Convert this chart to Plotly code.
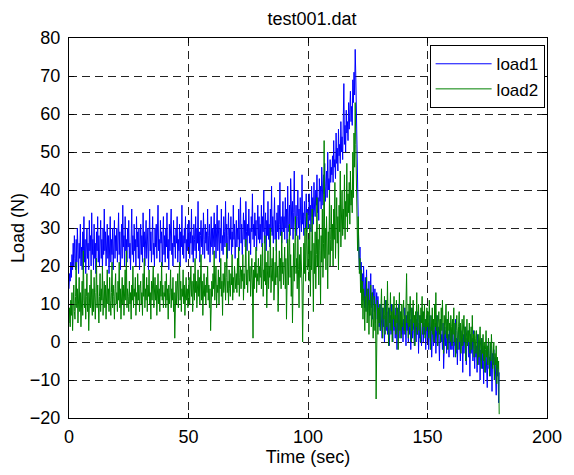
import plotly.graph_objects as go

dt = 0.25  # sample interval (sec)

load1 = [
    # 0-10 s
    14, 18, 16, 21, 17, 23, 19, 26, 20, 28, 22, 19, 27, 21, 30, 23, 18, 26, 22, 31,
    20, 25, 19, 29, 24, 33, 21, 27, 18, 25, 30, 22, 26, 19, 32, 24, 28, 20, 34, 23,
    # 10-20 s
    27, 19, 31, 22, 26, 18, 29, 24, 33, 21, 28, 20, 25, 32, 22, 27, 19, 30, 23, 35,
    24, 29, 20, 26, 31, 22, 28, 18, 25, 33, 21, 27, 23, 30, 19, 26, 32, 22, 28, 24,
    # 20-30 s
    30, 21, 27, 34, 23, 29, 19, 26, 31, 22, 36, 25, 28, 20, 33, 24, 27, 21, 30, 25,
    32, 22, 26, 19, 29, 35, 23, 28, 21, 31, 24, 27, 20, 33, 25, 29, 22, 30, 19, 26,
    # 30-40 s
    31, 23, 28, 21, 34, 25, 29, 20, 27, 32, 22, 26, 30, 19, 28, 35, 24, 29, 21, 27,
    33, 23, 26, 20, 30, 25, 31, 22, 28, 36, 24, 27, 21, 32, 26, 29, 20, 25, 33, 23,
    # 40-50 s
    28, 21, 30, 25, 34, 22, 27, 19, 31, 24, 29, 35, 23, 26, 20, 32, 25, 28, 22, 30,
    26, 33, 21, 27, 24, 31, 20, 29, 25, 36, 23, 28, 22, 30, 26, 33, 21, 27, 24, 31,
    # 50-60 s
    25, 32, 22, 29, 26, 35, 23, 28, 21, 31, 27, 24, 33, 22, 30, 26, 37, 24, 29, 21,
    28, 32, 25, 30, 23, 34, 27, 22, 31, 26, 29, 24, 35, 23, 28, 31, 21, 27, 33, 25,
    # 60-70 s
    30, 23, 28, 34, 25, 31, 22, 29, 36, 24, 27, 32, 21, 30, 26, 35, 24, 28, 23, 33,
    29, 25, 37, 26, 31, 22, 28, 34, 24, 30, 27, 33, 23, 29, 25, 36, 27, 31, 22, 28,
    # 70-80 s
    32, 25, 30, 27, 35, 24, 29, 38, 26, 31, 23, 28, 34, 27, 32, 25, 37, 29, 24, 31,
    28, 35, 26, 30, 23, 33, 29, 39, 27, 31, 25, 34, 28, 32, 24, 30, 36, 27, 33, 26,
    # 80-90 s
    31, 27, 36, 25, 33, 29, 40, 26, 30, 34, 24, 32, 28, 37, 27, 31, 25, 35, 29, 41,
    28, 33, 26, 30, 38, 27, 32, 24, 34, 29, 36, 27, 31, 42, 28, 33, 26, 30, 37, 29,
    # 90-100 s
    33, 27, 38, 30, 35, 26, 41, 31, 29, 36, 28, 43, 32, 30, 37, 27, 34, 45, 31, 29,
    36, 28, 33, 40, 30, 35, 27, 38, 32, 29, 44, 31, 34, 28, 37, 33, 30, 39, 29, 35,
    # 100-110 s
    34, 30, 39, 32, 36, 29, 41, 33, 38, 31, 42, 35, 33, 40, 36, 44, 34, 38, 32, 43,
    37, 41, 35, 46, 38, 36, 44, 39, 47, 37, 41, 45, 38, 50, 40, 43, 39, 48, 42, 46,
    # 110-120 s
    44, 49, 42, 53, 46, 48, 43, 55, 47, 51, 45, 56, 49, 52, 47, 58, 50, 54, 48, 60,
    68, 52, 57, 50, 61, 55, 58, 53, 63, 56, 60, 66, 58, 62, 57, 69, 63, 71, 65, 77,
    # 120-130 s
    70, 58, 45, 36, 30, 24, 19, 25, 16, 21, 13, 18, 11, 20, 15, 9, 17, 12, 19, 8,
    14, 10, 16, 7, 12, 18, 9, 13, 6, 15, 11, 8, 14, 5, 10, 13, 6, 12, 9, 4,
    # 130-140 s
    8, 3, 10, 5, 1, 9, 4, 7, 0, 6, 11, 3, 8, 2, 6, 9, -1, 5, 7, 2,
    10, 4, 0, 8, 3, 6, 1, 9, 4, -2, 7, 3, 10, 5, 1, 6, 8, 2, 5, 0,
    # 140-150 s
    6, 2, 9, 4, -1, 7, 3, 5, 0, 8, 2, 6, -2, 4, 9, 1, 5, 3, -1, 7,
    4, 0, 6, 2, 8, -3, 5, 1, 7, 3, -1, 4, 8, 0, 5, 2, 6, -2, 3, 7,
    # 150-160 s
    1, 5, -2, 3, 7, 0, 4, -4, 2, 6, -1, 3, 0, 5, -3, 2, 7, -1, 4, 1,
    -5, 3, 6, 0, 2, -2, 5, -7, 1, 4, -1, 3, -3, 6, 0, 2, -4, 4, 1, -2,
    # 160-170 s
    3, -2, 5, 0, -4, 2, -1, 6, -3, 1, -6, 2, 4, -2, 0, -5, 3, -1, 1, -8,
    2, -3, 0, 4, -2, -6, 1, -1, 3, -4, 0, -9, 2, -3, -1, 1, -5, 3, -2, -7,
    # 170-180 s
    0, -4, -1, -8, 2, -3, -6, 0, -10, -2, -5, 1, -7, -3, -11, -1, -4, -8, -2, -6,
    -12, -3, 0, -7, -4, -9, -1, -5, -13, -3, -6, -2, -10, -4, -8, -14, -5, -9, -6, -16,
    -8,
]

load2 = [
    # 0-10 s
    5, 9, 4, 11, 7, 13, 3, 10, 15, 8, 6, 12, 21, 9, 14, 5, 11, 17, 8, 13,
    4, 10, 16, 7, 24, 11, 9, 14, 6, 12, 18, 8, 13, 3, 11, 15, 9, 19, 10, 7,
    # 10-20 s
    14, 8, 17, 11, 6, 13, 22, 9, 15, 10, 5, 12, 18, 8, 14, 11, 20, 7, 13, 16,
    9, 15, 6, 12, 19, 10, 14, 8, 17, 11, 7, 13, 21, 9, 15, 12, 6, 14, 18, 10,
    # 20-30 s
    13, 8, 16, 11, 21, 9, 14, 6, 12, 17, 10, 15, 7, 13, 19, 11, 24, 9, 14, 12,
    8, 16, 10, 13, 6, 15, 11, 20, 9, 14, 12, 17, 7, 13, 10, 18, 11, 15, 8, 14,
    # 30-40 s
    16, 10, 13, 7, 18, 12, 22, 9, 14, 11, 17, 8, 15, 12, 19, 10, 13, 6, 16, 11,
    14, 20, 9, 13, 17, 11, 15, 7, 12, 18, 10, 14, 8, 16, 12, 21, 11, 15, 9, 13,
    # 40-50 s
    12, 16, 9, 18, 11, 14, 6, 15, 10, 13, 19, 9, 14, 11, 17, 8, 13, 1, 12, 16,
    10, 14, 18, 9, 13, 21, 11, 16, 8, 14, 12, 19, 10, 15, 7, 13, 17, 11, 14, 9,
    # 50-60 s
    13, 17, 10, 15, 20, 12, 16, 8, 14, 18, 11, 22, 13, 16, 9, 15, 19, 12, 17, 10,
    14, 23, 11, 16, 7, 13, 18, 12, 15, 10, 17, 13, 20, 11, 15, 9, 14, 3, 12, 16,
    # 60-70 s
    12, 18, 14, 24, 11, 16, 20, 9, 15, 13, 19, 10, 17, 14, 22, 12, 16, 7, 18, 13,
    15, 21, 11, 17, 26, 13, 16, 10, 19, 14, 12, 18, 15, 23, 11, 17, 13, 20, 16, 14,
    # 70-80 s
    18, 13, 22, 15, 25, 12, 17, 20, 14, 19, 16, 23, 11, 18, 14, 21, 27, 15, 19, 13,
    17, 24, 16, 20, 12, 18, 22, 15, 1, 19, 14, 21, 17, 25, 13, 18, 16, 22, 15, 20,
    # 80-90 s
    17, 23, 14, 20, 26, 12, 19, 16, 28, 15, 21, 9, 18, 24, 14, 20, 17, 30, 13, 19,
    22, 16, 25, 11, 18, 21, 15, 27, 17, 20, 8, 19, 24, 16, 22, 14, 29, 18, 21, 15,
    # 90-100 s
    20, 25, 14, 22, 6, 18, 27, 15, 21, 31, 17, 23, 12, 20, 5, 19, 26, 16, 24, 33,
    18, 22, 14, 28, 19, 9, 23, 17, 25, 20, 15, 0, 21, 26, 18, 30, 16, 22, 34, 19,
    # 100-110 s
    21, 27, 16, 31, 12, 24, 19, 35, 22, 8, 26, 18, 29, 14, 23, 38, 20, 27, 15, 31,
    24, 10, 28, 21, 35, 17, 26, 53, 22, 30, 19, 33, 25, 14, 29, 23, 40, 20, 27, 36,
    # 110-120 s
    24, 31, 20, 35, 27, 42, 22, 30, 38, 26, 33, 19, 36, 29, 45, 25, 32, 40, 28, 35,
    30, 44, 27, 37, 33, 47, 29, 39, 34, 42, 31, 45, 36, 40, 34, 50, 38, 55, 46, 63,
    # 120-130 s
    52, 40, 31, 24, 33, 27, 18, 22, 13, 19, 9, 16, 6, 14, 11, 3, 12, 8, 17, 5,
    10, 14, 2, 11, 7, 15, 4, 9, 13, 1, 8, 12, 3, 10, -15, 6, 11, 2, 9, 5,
    # 130-140 s
    10, 3, 8, 14, 5, 1, 9, 6, 12, 2, 7, 11, 4, 16, 6, -1, 9, 5, 13, 3,
    8, 0, 10, 6, 12, 4, 7, 2, 11, 5, 9, -2, 6, 13, 3, 8, 1, 10, 4, 7,
    # 140-150 s
    11, 3, 7, 2, 9, 18, 5, 8, 1, 10, 4, 12, 6, 0, 9, 3, 11, 5, 7, -1,
    8, 4, 13, 2, 6, 10, 3, 7, 0, 9, 5, 12, 2, 8, 4, 10, 1, 6, 3, 9,
    # 150-160 s
    4, 8, 1, 11, 5, -2, 7, 3, 9, 2, 6, 0, 10, 4, 13, 3, 7, -1, 5, 8,
    2, 6, 0, 9, 3, 11, 4, -3, 7, 2, 5, 10, 1, 6, -2, 8, 3, 5, 0, 7,
    # 160-170 s
    4, -1, 6, 2, 9, 0, 5, -4, 3, 7, 1, -2, 4, 8, 0, 5, -3, 2, 6, -1,
    3, 7, 0, 4, -5, 2, 6, -1, 3, 0, 5, -3, 1, 4, -2, 7, 0, 2, -4, 3,
    # 170-180 s
    1, -3, 3, -1, -6, 2, -4, 0, 4, -2, -7, 1, -3, 2, -5, 0, -8, -2, 3, -4,
    -1, -6, 1, -3, -9, 0, -5, 2, -2, -7, -4, 0, -10, -3, -6, -1, -11, -4, -7, -5,
    -19,
]

time = [i * dt for i in range(len(load1))]

series_names = ["load1", "load2"]
series_colors = ["#0000ff", "#008000"]

x_ticks = [0, 50, 100, 150, 200]
y_ticks = [-20, -10, 0, 10, 20, 30, 40, 50, 60, 70, 80]

FONT = "Liberation Sans, Arial, Helvetica, sans-serif"

fig = go.Figure()
for name, vals, col in zip(series_names, [load1, load2], series_colors):
    fig.add_trace(go.Scatter(x=time, y=vals, mode="lines", name=name,
                             line=dict(color=col, width=1)))

axis_common = dict(
    showline=True, linecolor="black", linewidth=1, mirror="ticks",
    ticks="inside", ticklen=5, tickcolor="black",
    showgrid=True, gridcolor="#222222", gridwidth=1, griddash="8px,5px",
    zeroline=False, tickfont=dict(family=FONT, size=18, color="black"),
)

fig.update_xaxes(range=[0, 200], tickvals=x_ticks, ticklabelstandoff=2,
                 title=dict(text="Time (sec)", font=dict(family=FONT, size=18, color="black"), standoff=4),
                 **axis_common)
fig.update_yaxes(range=[-20, 80], tickvals=y_ticks, ticklabelstandoff=4,
                 title=dict(text="Load (N)", font=dict(family=FONT, size=18, color="black"), standoff=0),
                 **axis_common)

fig.update_layout(
    width=574, height=475,
    margin=dict(l=69, r=18, t=38, b=57),
    paper_bgcolor="white", plot_bgcolor="white",
    title=dict(text="test001.dat", x=0.5436, xanchor="center", y=0.96, yanchor="middle",
               font=dict(family=FONT, size=18, color="black")),
    font=dict(family=FONT, size=18, color="black"),
    legend=dict(x=0.995, xanchor="right", y=0.981, yanchor="top",
                bgcolor="white", bordercolor="black", borderwidth=1,
                font=dict(family=FONT, size=17, color="black"),
                itemwidth=56, tracegroupgap=0),
    showlegend=True,
)

fig.write_html("out.html")
